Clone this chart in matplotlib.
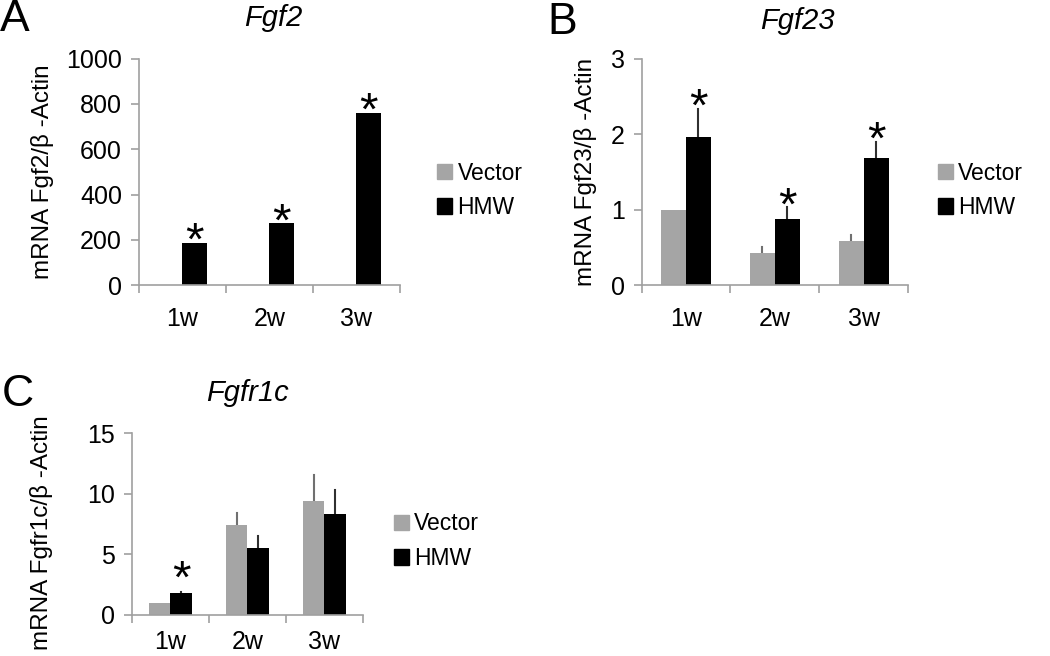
import numpy as np
import matplotlib.pyplot as plt
from matplotlib.patches import Patch

plt.rcParams['font.family'] = ['Liberation Sans', 'DejaVu Sans']

# Data
weeks = ['1w', '2w', '3w']
# Fgf2
fgf2_vector = [2, 2, 2]
fgf2_vector_err = [0, 0, 0]
fgf2_hmw = [186, 274, 761]
fgf2_hmw_err = [0, 0, 0]
fgf2_star = [True, True, True]
# Fgf23
fgf23_vector = [1.00, 0.42, 0.58]
fgf23_vector_err = [0.0, 0.08, 0.08]
fgf23_hmw = [1.96, 0.88, 1.69]
fgf23_hmw_err = [0.38, 0.15, 0.21]
fgf23_star = [True, True, True]
# Fgfr1c
fgfr1c_vector = [0.99, 7.42, 9.40]
fgfr1c_vector_err = [0.0, 1.0, 2.1]
fgfr1c_hmw = [1.81, 5.52, 8.30]
fgfr1c_hmw_err = [0.08, 1.0, 2.0]
fgfr1c_star = [True, False, False]

GREY = '#a5a5a5'
AXC = '#a0a0a0'


def panel(rect, vec, vec_err, hmw, hmw_err, stars, ymax, yticks, ylabel,
          star_off=-16, xpad=16):
    ax = fig.add_axes(rect)
    x = np.arange(len(weeks))
    w = 0.28
    ax.bar(x - w / 2, vec, w, color=GREY, zorder=2)
    ax.bar(x + w / 2, hmw, w, color='black', zorder=2)
    for i in range(len(weeks)):
        if vec_err[i] > 0:
            ax.plot([x[i] - w / 2] * 2, [vec[i], vec[i] + vec_err[i]],
                    color='#707070', lw=1.5, zorder=1)
        if hmw_err[i] > 0:
            ax.plot([x[i] + w / 2] * 2, [hmw[i], hmw[i] + hmw_err[i]],
                    color='#303030', lw=1.5, zorder=1)
        if stars[i]:
            ax.annotate('*', (x[i] + w / 2, hmw[i] + hmw_err[i]),
                        xytext=(0, star_off), textcoords='offset points',
                        ha='center', va='bottom', fontsize=34)
    ax.set_xlim(-0.5, len(weeks) - 0.5)
    ax.set_ylim(0, ymax)
    ax.set_yticks(yticks)
    ax.set_xticks(x)
    ax.set_xticklabels(weeks)
    ax.set_xticks(np.arange(len(weeks) + 1) - 0.5, minor=True)
    ax.tick_params(axis='x', which='major', length=0, labelsize=18, pad=xpad)
    ax.tick_params(axis='x', which='minor', length=6, color=AXC, width=1.2)
    ax.tick_params(axis='y', length=6, color=AXC, width=1.2, labelsize=18, pad=6)
    for s in ['top', 'right']:
        ax.spines[s].set_visible(False)
    for s in ['left', 'bottom']:
        ax.spines[s].set_color(AXC)
        ax.spines[s].set_linewidth(1.2)
    ax.set_ylabel(ylabel, fontsize=17.5)
    return ax


fig = plt.figure(figsize=(10.5, 6.56), dpi=100)

handles = [Patch(color=GREY, label='Vector'), Patch(color='black', label='HMW')]

axA = panel([0.132, 0.5655, 0.249, 0.345], fgf2_vector, fgf2_vector_err,
            fgf2_hmw, fgf2_hmw_err, fgf2_star, 1000, [0, 200, 400, 600, 800, 1000],
            'mRNA Fgf2/β -Actin')
axB = panel([0.611, 0.5655, 0.254, 0.345], fgf23_vector, fgf23_vector_err,
            fgf23_hmw, fgf23_hmw_err, fgf23_star, 3, [0, 1, 2, 3],
            'mRNA Fgf23/β -Actin')
axC = panel([0.1257, 0.0625, 0.220, 0.2774], fgfr1c_vector, fgfr1c_vector_err,
            fgfr1c_hmw, fgfr1c_hmw_err, fgfr1c_star, 15, [0, 5, 10, 15],
            'mRNA Fgfr1c/β -Actin', star_off=-8, xpad=11)

axA.yaxis.set_label_coords(-0.325, 0.5)
axB.yaxis.set_label_coords(-0.168, 0.5)
axC.yaxis.set_label_coords(-0.34, 0.45)

legend_kw = dict(frameon=False, fontsize=16.5, handlelength=0.65, handleheight=0.65,
                 handletextpad=0.25, labelspacing=0.5, borderaxespad=0, borderpad=0)
fig.legend(handles=handles, loc='center left', bbox_to_anchor=(0.416, 0.71), **legend_kw)
fig.legend(handles=handles, loc='center left', bbox_to_anchor=(0.893, 0.71), **legend_kw)
fig.legend(handles=handles, loc='center left', bbox_to_anchor=(0.375, 0.175), **legend_kw)

fig.text(0.26, 0.972, 'Fgf2', style='italic', fontsize=21, ha='center', va='center')
fig.text(0.759, 0.968, 'Fgf23', style='italic', fontsize=21, ha='center', va='center')
fig.text(0.236, 0.401, 'Fgfr1c', style='italic', fontsize=21, ha='center', va='center')

fig.text(0.0, 0.970, 'A', fontsize=32, ha='left', va='center')
fig.text(0.521, 0.966, 'B', fontsize=32, ha='left', va='center')
fig.text(0.002, 0.398, 'C', fontsize=32, ha='left', va='center')

fig.savefig('out.png', dpi=100)
